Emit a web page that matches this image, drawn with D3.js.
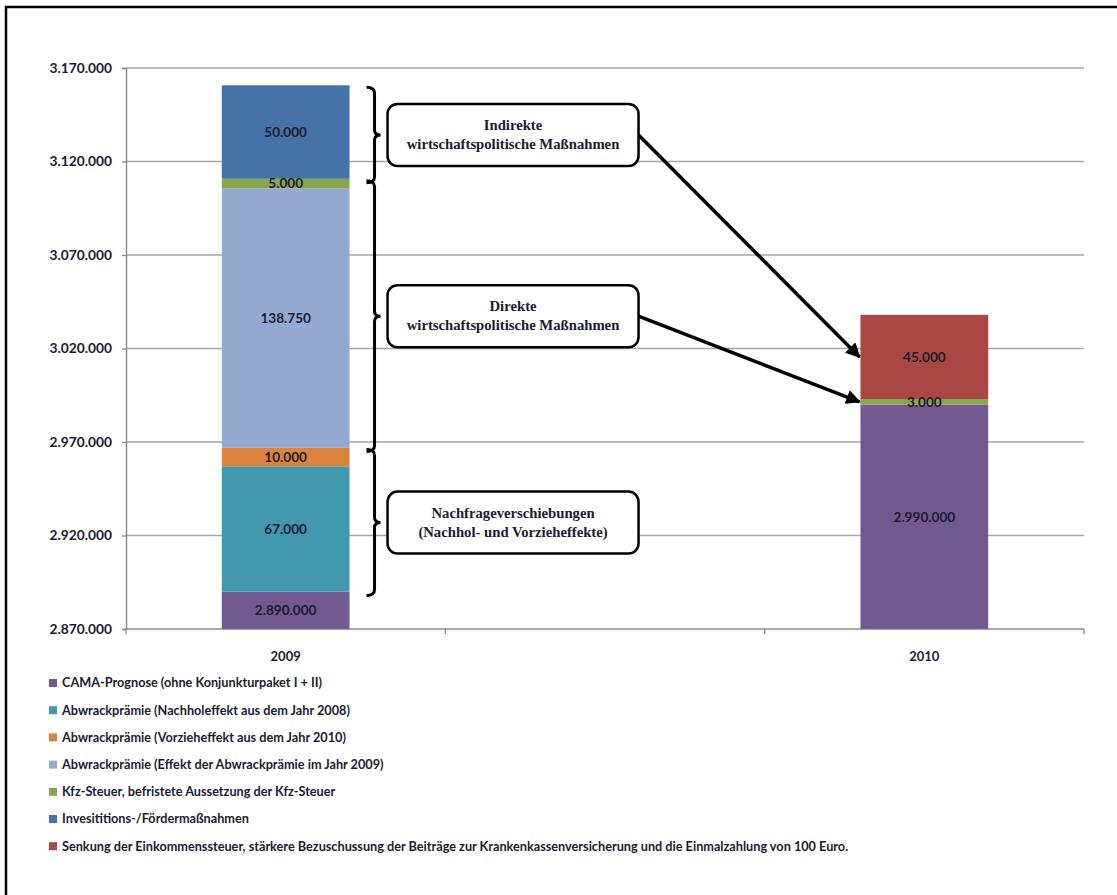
<!DOCTYPE html>
<html><head><meta charset="utf-8">
<script src="https://cdn.jsdelivr.net/npm/d3@7"></script>
<style>
html,body{margin:0;padding:0;background:#fff;}
svg{display:block;}
</style></head>
<body>
<script>
const categories = ["2009", "", "2010"];
const seriesNames = [
  "CAMA-Prognose (ohne Konjunkturpaket I + II)",
  "Abwrackprämie (Nachholeffekt aus dem Jahr 2008)",
  "Abwrackprämie (Vorzieheffekt aus dem Jahr 2010)",
  "Abwrackprämie (Effekt der Abwrackprämie im Jahr 2009)",
  "Kfz-Steuer, befristete Aussetzung der Kfz-Steuer",
  "Invesititions-/Fördermaßnahmen",
  "Senkung der Einkommenssteuer, stärkere Bezuschussung der Beiträge zur Krankenkassenversicherung und die Einmalzahlung von 100 Euro."
];
const camaValues     = [2890000, 0, 2990000];
const nachholValues  = [67000, 0, 0];
const vorziehValues  = [10000, 0, 0];
const effektValues   = [138750, 0, 0];
const kfzValues      = [5000, 0, 3000];
const investValues   = [50000, 0, 0];
const senkungValues  = [0, 0, 45000];
const seriesColors = ["#725990", "#4198AF", "#DB843D", "#93A9CF", "#89A54E", "#4572A7", "#AA4643"];
const yTicks = [2870000, 2920000, 2970000, 3020000, 3070000, 3120000, 3170000];

// annotation groups: series index range covered in 2009 bar
const groupLines = [
  ["Indirekte", "wirtschaftspolitische Maßnahmen"],
  ["Direkte", "wirtschaftspolitische Maßnahmen"],
  ["Nachfrageverschiebungen", "(Nachhol- und Vorzieheffekte)"]
];
const groupSeriesFrom = [5, 3, 1];
const groupSeriesTo   = [5, 4, 2];
// arrows: from group box to series segment in 2010
const arrowFromGroup = [0, 1];
const arrowToSeries  = [6, 4];

const allValues = [camaValues, nachholValues, vorziehValues, effektValues, kfzValues, investValues, senkungValues];
const table = categories.map((c, i) => {
  const o = {cat: c};
  seriesNames.forEach((s, j) => o[j] = allValues[j][i]);
  return o;
});
const keys = seriesNames.map((s, j) => j);
const stacked = d3.stack().keys(keys)(table);

const W = 1117, H = 895;
const svg = d3.select("body").append("svg").attr("width", W).attr("height", H);
svg.append("rect").attr("x", 6).attr("y", 7).attr("width", W + 20).attr("height", H + 20)
  .attr("fill", "#fff").attr("stroke", "#000").attr("stroke-width", 2.5);

const plot = {left: 126, right: 1084, top: 68, bottom: 629};
const y = d3.scaleLinear().domain([2870000, 3170000]).range([plot.bottom, plot.top]).clamp(true);
const x = d3.scaleBand().domain(categories).range([plot.left, plot.right]).paddingInner(0.6).paddingOuter(0.3);
const step = x.step();

const loc = d3.formatLocale({decimal: ",", thousands: ".", grouping: [3], currency: ["", " €"]});
const fmt = loc.format(",");

const labelFont = "Lato, 'Open Sans', sans-serif";
const textColor = "#1b1b30";

// gridlines
svg.append("g").selectAll("line").data(yTicks.slice(1)).join("line")
  .attr("x1", plot.left).attr("x2", plot.right)
  .attr("y1", d => y(d)).attr("y2", d => y(d))
  .attr("stroke", "#a6a6a6").attr("stroke-width", 1.3);

// y axis
const yAxis = svg.append("g").attr("transform", `translate(${plot.left},0)`)
  .call(d3.axisLeft(y).tickValues(yTicks).tickFormat(fmt).tickSizeOuter(0).tickSize(4).tickPadding(10));
yAxis.select(".domain").attr("stroke", "#8c8c8c").attr("stroke-width", 1.5);
yAxis.selectAll(".tick line").attr("stroke", "#8c8c8c").attr("stroke-width", 1.3);
yAxis.selectAll(".tick text").attr("font-family", labelFont).attr("font-weight", "bold")
  .attr("font-size", 13.8).attr("fill", textColor);

// x axis
const xg = svg.append("g");
xg.append("line").attr("x1", plot.left).attr("x2", plot.right).attr("y1", plot.bottom).attr("y2", plot.bottom)
  .attr("stroke", "#8c8c8c").attr("stroke-width", 1.5);
xg.selectAll("line.t").data(d3.range(categories.length + 1)).join("line").attr("class", "t")
  .attr("x1", i => plot.left + i * step).attr("x2", i => plot.left + i * step)
  .attr("y1", plot.bottom).attr("y2", plot.bottom + 5)
  .attr("stroke", "#8c8c8c").attr("stroke-width", 1.3);
xg.selectAll("text").data(categories).join("text")
  .attr("x", d => x(d) + x.bandwidth() / 2).attr("y", 661)
  .attr("text-anchor", "middle").attr("font-family", labelFont).attr("font-weight", "bold")
  .attr("font-size", 13).attr("fill", textColor).text(d => d);

// bars
const layers = svg.append("g").selectAll("g").data(stacked).join("g")
  .attr("fill", d => seriesColors[d.key]);
layers.selectAll("rect").data(d => d.filter(p => p[1] - p[0] > 0)).join("rect")
  .attr("x", p => x(p.data.cat)).attr("width", x.bandwidth())
  .attr("y", p => y(p[1])).attr("height", p => y(p[0]) - y(p[1]));

// segment labels
const lab = svg.append("g");
stacked.forEach(layer => {
  layer.forEach(p => {
    const v = p[1] - p[0];
    if (v <= 0) return;
    lab.append("text")
      .attr("x", x(p.data.cat) + x.bandwidth() / 2)
      .attr("y", (y(p[0]) + y(p[1])) / 2)
      .attr("dy", "0.35em").attr("text-anchor", "middle")
      .attr("font-family", labelFont).attr("font-weight", "bold").attr("font-size", 13.6)
      .attr("fill", textColor).text(fmt(v));
  });
});

// annotations
const bar09 = categories[0];
const barRight = x(bar09) + x.bandwidth();
const ann = svg.append("g");
const defs = svg.append("defs");
defs.append("marker").attr("id", "ah").attr("viewBox", "0 0 10 10").attr("refX", 9).attr("refY", 5)
  .attr("markerWidth", 4.2).attr("markerHeight", 4.2).attr("orient", "auto")
  .append("path").attr("d", "M0,0 L10,5 L0,10 Z").attr("fill", "#000");

const boxX0 = barRight + 38, boxX1 = barRight + 289, boxH = 62;
const boxCenters = [];
groupLines.forEach((lines, g) => {
  const s0 = stacked[groupSeriesFrom[g]][0][0];
  const s1 = stacked[groupSeriesTo[g]][0][1];
  const yTop = y(s1) + 2, yBot = y(s0) + 4;
  const ym = (yTop + yBot) / 2;
  const x0 = barRight + 17, xv = x0 + 8, xt = xv + 6;
  ann.append("path")
    .attr("d", `M${x0},${yTop} Q${xv},${yTop} ${xv},${yTop + 6} L${xv},${ym - 5} Q${xv},${ym} ${xt},${ym} Q${xv},${ym} ${xv},${ym + 5} L${xv},${yBot - 6} Q${xv},${yBot} ${x0},${yBot}`)
    .attr("fill", "none").attr("stroke", "#000").attr("stroke-width", 3);
  ann.append("rect").attr("x", boxX0).attr("y", ym - boxH / 2).attr("width", boxX1 - boxX0).attr("height", boxH)
    .attr("rx", 10).attr("fill", "#fff").attr("stroke", "#000").attr("stroke-width", 2.5);
  const t = ann.append("text").attr("text-anchor", "middle")
    .attr("font-family", "'Liberation Serif', 'Times New Roman', serif").attr("font-weight", "bold")
    .attr("font-size", 14.7).attr("fill", textColor);
  lines.forEach((ln, k) => {
    t.append("tspan").attr("x", (boxX0 + boxX1) / 2).attr("y", ym - 5 + k * 19).text(ln);
  });
  boxCenters.push(ym);
});

const bar10 = categories[2];
arrowFromGroup.forEach((g, i) => {
  const seg = stacked[arrowToSeries[i]][2];
  const ty = (y(seg[0]) + y(seg[1])) / 2;
  ann.append("line").attr("x1", boxX1).attr("y1", boxCenters[g])
    .attr("x2", x(bar10) - 1).attr("y2", ty)
    .attr("stroke", "#000").attr("stroke-width", 3.5).attr("marker-end", "url(#ah)");
});

// legend
const leg = svg.append("g");
seriesNames.forEach((s, j) => {
  const ly = 683 + j * 27.2;
  leg.append("rect").attr("x", 49).attr("y", ly - 4).attr("width", 8).attr("height", 8).attr("fill", seriesColors[j]);
  leg.append("text").attr("x", 62).attr("y", ly).attr("dy", "0.35em")
    .attr("font-family", labelFont).attr("font-weight", "bold").attr("font-size", 12.7)
    .attr("fill", textColor).text(s);
});
</script>
</body></html>
